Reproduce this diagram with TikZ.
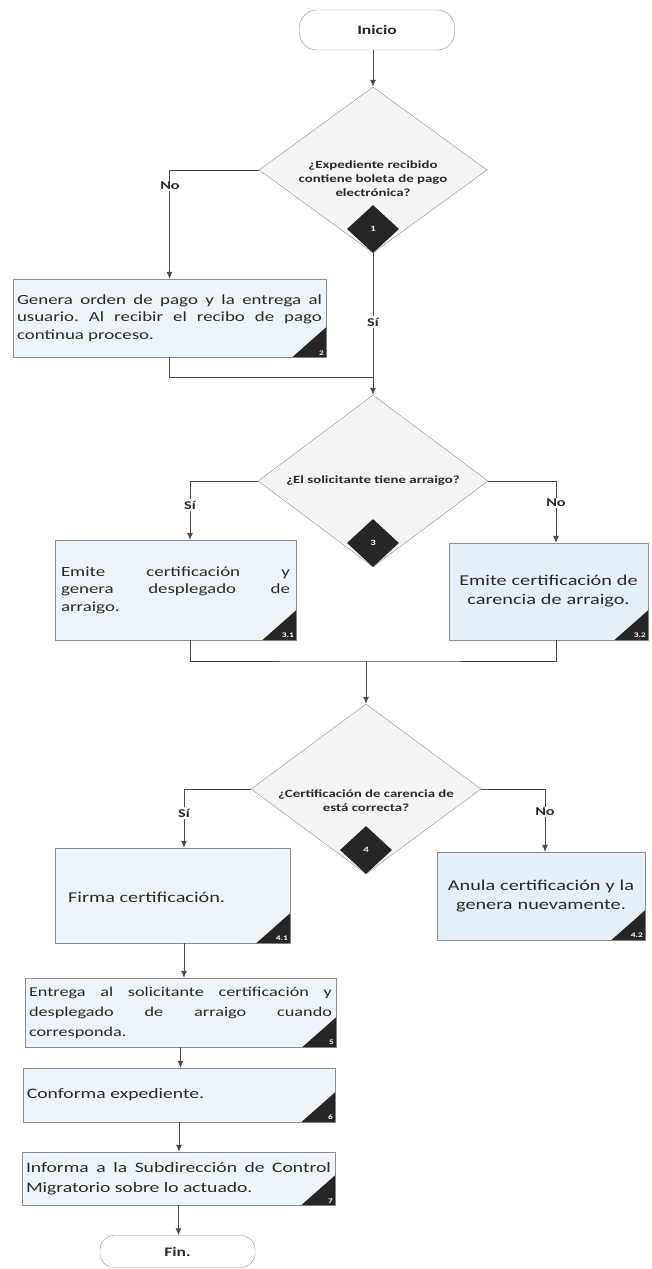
\documentclass[tikz,border=0pt]{standalone}
\usepackage{fontspec}
\setmainfont{Carlito}[FakeStretch=1.35]
\usetikzlibrary{shapes.geometric,arrows.meta}

\hyphenpenalty=10000
\exhyphenpenalty=10000
\tolerance=10000
\frenchspacing

\definecolor{boxfill}{HTML}{EEF5FA}
\definecolor{boxfillb}{HTML}{E4EFF7}
\definecolor{edgegray}{HTML}{8E8E8E}
\definecolor{linegray}{HTML}{4A4A4A}
\definecolor{tagdark}{HTML}{262626}
\definecolor{decfill}{HTML}{F5F5F8}
\definecolor{inkgray}{HTML}{2A2A2A}

\tikzset{
  terminal/.style={draw=edgegray, fill=white, rounded corners=17pt, minimum width=155pt,
    inner sep=0pt, text=inkgray, font=\fontsize{13}{15}\selectfont\bfseries},
  decision/.style={diamond, draw=edgegray, fill=decfill, inner sep=0pt},
  dectext/.style={align=center, inner sep=0pt, text=inkgray, font=\fontsize{11}{14}\selectfont\bfseries},
  process/.style={draw=edgegray, fill=boxfill, inner xsep=4pt, inner ysep=0pt, text=inkgray},
  tagdiamond/.style={diamond, fill=tagdark, minimum width=52pt, minimum height=48pt, inner sep=0pt,
    text=white, font=\fontsize{8}{9}\selectfont\bfseries},
  tagtext/.style={anchor=south east, inner sep=2pt, text=white, font=\fontsize{7}{8}\selectfont\bfseries},
  flow/.style={draw=linegray, line width=0.8pt, -{Latex[length=7pt,width=6pt]}},
  joinline/.style={draw=linegray, line width=0.8pt},
  branch/.style={fill=white, inner sep=1.5pt, text=inkgray, font=\fontsize{12}{14}\selectfont\bfseries}
}

% dark corner triangle with step number
\newcommand{\cornertag}[2]{%
  \fill[tagdark] (#1.south east) -- ++(-34,0) -- ++(34,-30) -- cycle;
  \node[tagtext] (tag#1) at (#1.south east) {#2};}

\begin{document}
\begin{tikzpicture}[x=1pt, y=-1pt]
\useasboundingbox (0,0) rectangle (651,1269);

% Drawing start
\node[terminal, minimum height=40pt] (inicio) at (377,30) {Inicio};

% Drawing decision 1
\node[decision, minimum width=228pt, minimum height=166pt] (d1) at (373,170) {};
\node[dectext] (d1txt) at (373,179) {¿Expediente recibido\\contiene boleta de pago\\electrónica?};
\node[tagdiamond] (d1tag) at (373,229) {1};

% Drawing step 2
\node[process, text width=305pt, minimum height=78pt, align=justify,
  font=\fontsize{14}{17.5}\selectfont] (p2) at (169.5,318)
  {Genera orden de pago y la entrega al usuario. Al recibir el recibo de pago continua proceso.};
\cornertag{p2}{2}

% Drawing decision 3
\node[decision, minimum width=230pt, minimum height=172pt] (d3) at (373,481) {};
\node[dectext] (d3txt) at (373,481) {¿El solicitante tiene arraigo?};
\node[tagdiamond] (d3tag) at (373,543) {3};

% Drawing steps 3.1 and 3.2
\node[process, text width=229pt, inner xsep=6pt, minimum height=100pt, align=justify,
  font=\fontsize{14}{17.5}\selectfont] (p31) at (175.5,590)
  {Emite certificación y\linebreak genera desplegado de\linebreak arraigo.};
\cornertag{p31}{3.1}
\node[process, fill=boxfillb, text width=191pt, minimum height=97pt, align=center,
  font=\fontsize{15}{19}\selectfont] (p32) at (548.5,591.5)
  {Emite certificación de\\carencia de arraigo.};
\cornertag{p32}{3.2}

% Drawing decision 4
\node[decision, minimum width=230pt, minimum height=170pt] (d4) at (366,789) {};
\node[dectext] (d4txt) at (366,801) {¿Certificación de carencia de\\está correcta?};
\node[tagdiamond] (d4tag) at (366,850) {4};

% Drawing steps 4.1 and 4.2
\node[process, minimum width=235pt, minimum height=95pt] (p41) at (172.5,895.5) {};
\node[anchor=west, inner sep=0pt, text=inkgray, font=\fontsize{15}{19}\selectfont] (t41) at (68,897)
  {Firma certificación.};
\cornertag{p41}{4.1}
\node[process, fill=boxfillb, text width=200pt, minimum height=88pt, align=center,
  font=\fontsize{15}{19}\selectfont] (p42) at (541,896)
  {Anula certificación y la\\genera nuevamente.};
\cornertag{p42}{4.2}

% Drawing steps 5, 6 and 7
\node[process, text width=303pt, minimum height=69pt, align=justify,
  font=\fontsize{13.5}{20}\selectfont] (p5) at (180.5,1012.5)
  {Entrega al solicitante certificación y\linebreak desplegado de arraigo cuando\linebreak corresponda.};
\cornertag{p5}{5}
\node[process, text width=304pt, minimum height=54pt, align=left,
  font=\fontsize{14.5}{20}\selectfont] (p6) at (179,1095) {Conforma expediente.};
\cornertag{p6}{6}
\node[process, text width=305pt, minimum height=53pt, align=justify,
  font=\fontsize{14.5}{20}\selectfont] (p7) at (178.5,1178.5)
  {Informa a la Subdirección de Control Migratorio sobre lo actuado.};
\cornertag{p7}{7}

% Drawing end
\node[terminal, minimum height=32pt, rounded corners=14pt] (fin) at (177.5,1251.5) {Fin.};

% Branch corners and joins
\coordinate (j1) at (373,377);
\coordinate (c3l) at (190,481);
\coordinate (c3r) at (556,481);
\coordinate (j3) at (366,661);
\coordinate (c4l) at (184,789);
\coordinate (c4r) at (545,789);

% Drawing connectors
\draw[flow] (inicio.south -| d1.north) -- (d1.north);
\draw[flow] (d1.west) -| (p2.north);
\draw[flow] (d1.south) -- (d3.north);
\draw[joinline] (p2.south) |- (j1);
\draw[flow] (d3.west) -| (c3l |- p31.north);
\draw[flow] (d3.east) -| (c3r |- p32.north);
\draw[joinline] (c3l |- p31.south) |- (j3) -| (c3r |- p32.south);
\draw[flow] (j3) -- (d4.north);
\draw[flow] (d4.west) -| (c4l |- p41.north);
\draw[flow] (d4.east) -| (c4r |- p42.north);
\draw[flow] (c4l |- p41.south) -- (c4l |- p5.north);
\draw[flow] (p5.south) -- (p5.south |- p6.north);
\draw[flow] (p6.south) -- (p6.south |- p7.north);
\draw[flow] (p7.south) -- (p7.south |- fin.north);

% Drawing branch labels
\node[branch] (no1) at (170,186) {No};
\node[branch] (si1) at (373,322) {Sí};
\node[branch] (si3) at (190,505) {Sí};
\node[branch] (no3) at (556,503) {No};
\node[branch] (si4) at (184,813) {Sí};
\node[branch] (no4) at (545,812) {No};

\end{tikzpicture}
\end{document}
